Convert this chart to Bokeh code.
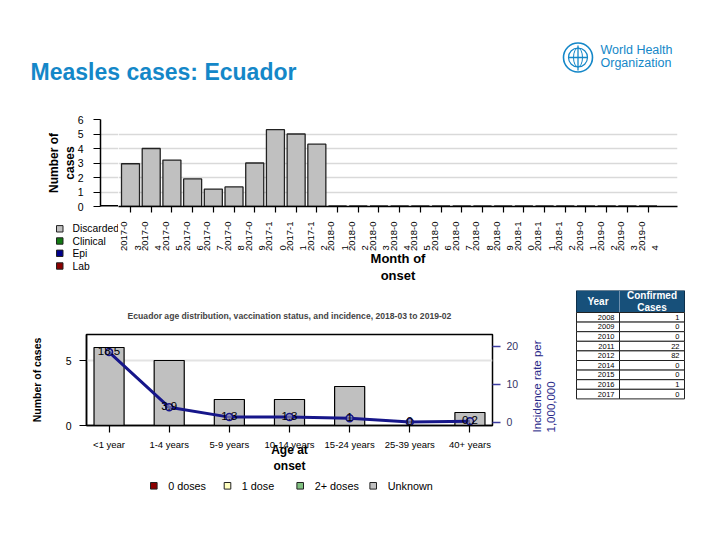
import numpy as np
from bokeh.plotting import figure
from bokeh.models import (ColumnDataSource, Range1d, LinearAxis, FixedTicker, Grid, Span,
                          Spacer)
from bokeh.layouts import column, row
from bokeh.embed import file_html
from bokeh.resources import INLINE
from bokeh.core.properties import value

FONT = "Liberation Sans"

# ---------------- data ----------------
months = ["2017-03", "2017-04", "2017-05", "2017-06", "2017-07", "2017-08", "2017-09",
          "2017-10", "2017-11", "2017-12", "2018-01", "2018-02", "2018-03", "2018-04",
          "2018-05", "2018-06", "2018-07", "2018-08", "2018-09", "2018-10", "2018-11",
          "2018-12", "2019-01", "2019-02", "2019-03", "2019-04"]
discarded = [2.95, 4.0, 3.2, 1.9, 1.2, 1.35, 3.0, 5.3, 5.0, 4.3,
             0, 0, 0, 0, 0, 0, 0, 0, 0, 0, 0, 0, 0, 0, 0, 0]
clinical = [0, 0, 0, 0, 0, 0, 0, 0, 0, 0, 0, 0, 0, 0, 0, 0, 0, 0, 0, 0, 0, 0, 0, 0, 0, 0]
epi = [0, 0, 0, 0, 0, 0, 0, 0, 0, 0, 0, 0, 0, 0, 0, 0, 0, 0, 0, 0, 0, 0, 0, 0, 0, 0]
lab = [0, 0, 0, 0, 0, 0, 0, 0, 0, 0, 0, 0, 0, 0, 0, 0, 0, 0, 0, 0, 0, 0, 0, 0, 0, 0]
top_yticks = [0, 1, 2, 3, 4, 5, 6]
top_legend = ["Discarded", "Clinical", "Epi", "Lab"]

age_groups = ["<1 year", "1-4 years", "5-9 years", "10-14 years", "15-24 years",
              "25-39 years", "40+ years"]
dose0 = [0, 0, 0, 0, 0, 0, 0]
dose1 = [0, 0, 0, 0, 0, 0, 0]
dose2 = [0, 0, 0, 0, 0, 0, 0]
unknown = [6, 5, 2, 2, 3, 0, 1]
incidence = [18.5, 3.9, 1.3, 1.3, 1, 0, 0.2]
incidence_labels = ["18.5", "3.9", "1.3", "1.3", "1", "0", "0.2"]
bot_yticks = [0, 5]
inc_ticks = [0, 10, 20]
bot_legend = ["0 doses", "1 dose", "2+ doses", "Unknown"]

years = ["2008", "2009", "2010", "2011", "2012", "2014", "2015", "2016", "2017"]
confirmed = ["1", "0", "0", "22", "82", "0", "0", "1", "0"]

BLUE = "#1487c8"
NAVY = "#16168a"
TOP_COLORS = ["#c0c0c0", "#137a13", "#00008b", "#8b0000"]   # Discarded, Clinical, Epi, Lab
BOT_COLORS = ["#8b0000", "#ffffc0", "#80c080", "#c0c0c0"]   # 0, 1, 2+, unknown


def base_fig(**kw):
    p = figure(output_backend="svg", toolbar_location=None, **kw)
    p.background_fill_color = "white"
    p.border_fill_color = "white"
    p.frame_align = False
    return p


def blank_fig(w, h):
    p = base_fig(width=w, height=h, x_range=Range1d(0, w), y_range=Range1d(h, 0),
                 x_axis_location=None, y_axis_location=None, min_border=0)
    p.grid.visible = False
    p.outline_line_color = None
    return p


def style_axis(ax, tick_out):
    ax.axis_line_color = "black"
    ax.axis_line_width = 1.5
    ax.major_tick_line_color = "black"
    ax.major_tick_line_width = 1.2
    ax.major_tick_out = tick_out
    ax.major_tick_in = 0
    ax.minor_tick_line_color = None
    ax.major_label_text_font = FONT
    ax.major_label_text_color = "black"
    ax.axis_label_text_font = FONT
    ax.axis_label_text_font_style = "bold"
    ax.axis_label_text_color = "black"


# ---------------- header ----------------
hdr = blank_fig(704, 92)
hdr.text(x=[22], y=[63], text=["Measles cases: Ecuador"], text_font=value(FONT),
         text_font_style="bold", text_font_size="23px", text_color=BLUE,
         text_baseline="middle", text_align="left")
hdr.circle(x=[569.5], y=[49], radius=14.5, fill_color=None, line_color=BLUE, line_width=1.6)
hdr.circle(x=[569.5], y=[49], radius=9.5, fill_color=None, line_color=BLUE, line_width=1.2)
hdr.ellipse(x=[569.5], y=[49], width=9, height=19, fill_color=None, line_color=BLUE,
            line_width=1)
hdr.segment(x0=[560, 569.5], y0=[49, 37], x1=[579, 569.5], y1=[49, 62],
            line_color=BLUE, line_width=1.3)
hdr.text(x=[592], y=[41.5], text=["World Health"], text_font=value(FONT),
         text_font_size="12.5px", text_color=BLUE, text_baseline="middle")
hdr.text(x=[592], y=[54.5], text=["Organization"], text_font=value(FONT),
         text_font_size="12.5px", text_color=BLUE, text_baseline="middle")

# ---------------- top chart: y-axis part ----------------
lt = base_fig(width=110, height=112, x_range=Range1d(0, 1), y_range=Range1d(0, 6),
              x_axis_location=None, min_border_left=92, min_border_right=0,
              min_border_top=19, min_border_bottom=6)
lt.outline_line_color = None
lt.xgrid.visible = False
lt.yaxis.ticker = FixedTicker(ticks=top_yticks)
lt.ygrid.ticker = FixedTicker(ticks=top_yticks)
lt.ygrid.grid_line_color = "#d9d9d9"
lt.ygrid.grid_line_width = 1.5
style_axis(lt.yaxis[0], 7)
lt.yaxis.major_label_text_font_size = "10.5px"
lt.yaxis.major_label_standoff = 10
lt.yaxis.axis_label = "Number of\ncases"
lt.yaxis.axis_label_text_font_size = "12px"
lt.yaxis.axis_label_text_line_height = 1.1
lt.yaxis.axis_label_standoff = -2
lt.add_layout(Span(location=0, dimension="width", line_color="black", line_width=3))

# ---------------- top chart legend ----------------
lgt = blank_fig(110, 78)
ty = [16.3, 28.5, 40.8, 53.5]
lgt.quad(left=[48] * 4, right=[54.5] * 4, top=[v - 3.2 for v in ty],
         bottom=[v + 3.2 for v in ty], fill_color=TOP_COLORS, line_color="#222222",
         line_width=1)
lgt.text(x=[64] * 4, y=ty, text=top_legend, text_font=value(FONT), text_font_size="10.3px",
         text_baseline="middle", text_align="left", text_color="black")

# ---------------- top chart ----------------
topc = base_fig(width=594, height=190, x_range=Range1d(-0.580, 26.42), y_range=Range1d(0, 6),
                y_axis_location=None, min_border_left=0, min_border_right=35,
                min_border_top=19, min_border_bottom=84)
topc.outline_line_color = None
topc.grid.visible = False
topc.add_layout(Grid(dimension=1, ticker=FixedTicker(ticks=top_yticks),
                     grid_line_color="#d9d9d9", grid_line_width=1.5))

src_top = ColumnDataSource(dict(x=list(range(len(months))), lab=lab, epi=epi,
                                clinical=clinical, discarded=discarded))
topc.vbar_stack(["lab", "epi", "clinical", "discarded"], x="x", width=0.87,
                fill_color=[TOP_COLORS[3], TOP_COLORS[2], TOP_COLORS[1], TOP_COLORS[0]],
                line_color="#222222", line_width=1.3, source=src_top)

topc.xaxis.ticker = FixedTicker(ticks=list(range(len(months))))
NB = "\u00a0"
topc.xaxis.major_label_overrides = {i: m[:6] + "\n" + m[6:] + NB * 9
                                    for i, m in enumerate(months)}
topc.xaxis.major_label_orientation = np.pi / 2
style_axis(topc.xaxis[0], 6)
topc.xaxis.major_label_text_font_size = "9.5px"
topc.xaxis.major_label_standoff = 9
topc.xaxis.axis_label = "Month of\nonset"
topc.xaxis.axis_label_text_font_size = "13px"
topc.xaxis.axis_label_text_line_height = 1.15
topc.xaxis.axis_label_standoff = -3

# ---------------- bottom chart ----------------
bot = base_fig(width=521, height=186, x_range=Range1d(-0.375, 6.375), y_range=Range1d(0, 7),
               min_border_left=78, min_border_right=37, min_border_top=44,
               min_border_bottom=45)
bot.extra_y_ranges = {"inc": Range1d(-0.92, 23.15)}
bot.outline_line_color = "black"
bot.outline_line_width = 1.5
bot.xgrid.visible = False
bot.ygrid.grid_line_color = "#e3e3e3"
bot.ygrid.grid_line_width = 2

bot.title.text = "Ecuador age distribution, vaccination status, and incidence, 2018-03 to 2019-02"
bot.title.align = "center"
bot.title.text_font = FONT
bot.title.text_font_size = "8.6px"
bot.title.text_font_style = "bold"
bot.title.standoff = 28

src_bot = ColumnDataSource(dict(x=list(range(len(age_groups))), d0=dose0, d1=dose1,
                                d2=dose2, unk=unknown))
bot.vbar_stack(["d0", "d1", "d2", "unk"], x="x", width=0.5, fill_color=BOT_COLORS,
               line_color="black", line_width=1.2, source=src_bot)

src_inc = ColumnDataSource(dict(x=list(range(len(age_groups))), y=incidence,
                                lbl=incidence_labels))
bot.line("x", "y", source=src_inc, y_range_name="inc", line_color=NAVY, line_width=3)
bot.scatter("x", "y", source=src_inc, y_range_name="inc", size=7, fill_color="#9a9ab4",
            fill_alpha=0.6, line_color=NAVY, line_width=1.5)
bot.text("x", "y", text="lbl", source=src_inc, y_range_name="inc", text_font=value(FONT),
         text_font_size="11.5px", text_align="center", text_baseline="bottom",
         text_color="black", y_offset=3)

bot.yaxis.ticker = FixedTicker(ticks=bot_yticks)
bot.xaxis.ticker = FixedTicker(ticks=list(range(len(age_groups))))
bot.xaxis.major_label_overrides = {i: g for i, g in enumerate(age_groups)}
style_axis(bot.xaxis[0], 7)
style_axis(bot.yaxis[0], 7)
bot.xaxis.major_label_text_font_size = "9.5px"
bot.xaxis.major_label_standoff = 6
bot.xaxis.axis_label = "Age at\nonset"
bot.xaxis.axis_label_text_font_size = "12px"
bot.xaxis.axis_label_standoff = -10
bot.yaxis.major_label_text_font_size = "10.5px"
bot.yaxis.major_label_standoff = 8
bot.yaxis.axis_label = "Number of cases"
bot.yaxis.axis_label_text_font_size = "10.5px"
bot.yaxis.axis_label_standoff = 20

rax = LinearAxis(y_range_name="inc", ticker=FixedTicker(ticks=inc_ticks))
rax.axis_line_color = None
rax.major_tick_line_color = "#3c3ca0"
rax.major_tick_line_width = 1.5
rax.major_tick_out = 8
rax.major_tick_in = 0
rax.minor_tick_line_color = None
rax.major_label_text_font = FONT
rax.major_label_text_font_size = "10.5px"
rax.major_label_text_color = "#333366"
rax.major_label_standoff = 6
bot.add_layout(rax, "right")

# right-axis title (reads bottom to top, lines start at the frame bottom)
rtitle = blank_fig(36, 186)
rtitle.text(x=[1], y=[142], text=["Incidence rate per\n1,000,000"], angle=np.pi / 2,
            text_font=value(FONT), text_font_size="11.5px", text_color="#2a2a8a",
            text_align="left", text_baseline="top", text_line_height=1.2)

# ---------------- bottom legend ----------------
lgb = blank_fig(557, 56)
bx = [145.3, 219, 291.7, 364.7]
tx = [159.7, 233.3, 306.3, 379.3]
lgb.quad(left=[v - 3.3 for v in bx], right=[v + 3.3 for v in bx], top=[6] * 4,
         bottom=[12.6] * 4, fill_color=BOT_COLORS, line_color="#222222", line_width=1)
lgb.text(x=tx, y=[9.5] * 4, text=bot_legend, text_font=value(FONT), text_font_size="10.8px",
         text_baseline="middle", text_align="left", text_color="black")

# ---------------- table ----------------
tbl = blank_fig(147, 242)
xl, xm, xr = 11, 54, 119
ht, hb = 0, 22
rh = 9.6
n = len(years)
tbl.quad(left=[xl], right=[xr], top=[ht], bottom=[hb], fill_color="#17507a",
         line_color="#0d2f4a", line_width=1)
tbl.segment(x0=[xm], y0=[ht], x1=[xm], y1=[hb], line_color="#6d8fae", line_width=1)
tbl.text(x=[(xl + xm) / 2], y=[(ht + hb) / 2], text=["Year"], text_font=value(FONT),
         text_font_style="bold", text_font_size="10px", text_color="white",
         text_align="center", text_baseline="middle")
tbl.text(x=[(xm + xr) / 2], y=[(ht + hb) / 2], text=["Confirmed\nCases"],
         text_font=value(FONT), text_font_style="bold", text_font_size="10px",
         text_color="white", text_align="center", text_baseline="middle",
         text_line_height=1.1)
row_tops = [hb + i * rh for i in range(n)]
row_bots = [hb + (i + 1) * rh for i in range(n)]
tbl.quad(left=[xl] * n, right=[xm] * n, top=row_tops, bottom=row_bots,
         fill_color="white", line_color="#222222", line_width=1)
tbl.quad(left=[xm] * n, right=[xr] * n, top=row_tops, bottom=row_bots,
         fill_color="white", line_color="#222222", line_width=1)
row_mid = [(a + b) / 2 for a, b in zip(row_tops, row_bots)]
tbl.text(x=[xm - 5] * n, y=row_mid, text=years, text_font=value(FONT),
         text_font_size="7.5px", text_align="right", text_baseline="middle",
         text_color="black")
tbl.text(x=[xr - 5] * n, y=row_mid, text=confirmed, text_font=value(FONT),
         text_font_size="7.5px", text_align="right", text_baseline="middle",
         text_color="black")

content = column(hdr,
                 row(column(lt, lgt), topc),
                 row(column(row(bot, rtitle), lgb), tbl))
layout = column(Spacer(width=712, height=8), row(Spacer(width=8, height=524), content))
open("out.html", "w").write(file_html(layout, INLINE))
